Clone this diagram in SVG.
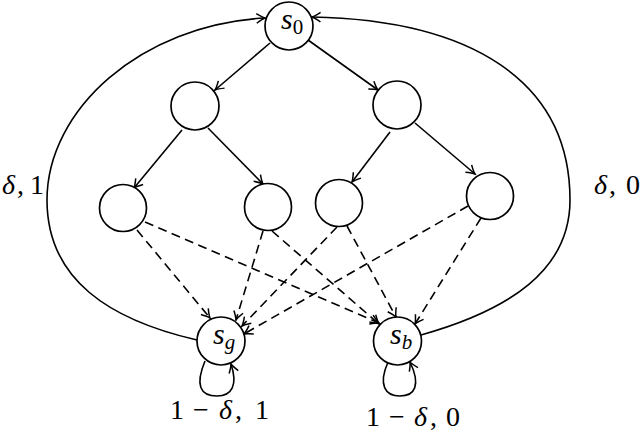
<svg xmlns="http://www.w3.org/2000/svg" width="640" height="431" viewBox="0 0 640 431">
<style>
.node circle{fill:#fff;stroke:#000;stroke-width:1.7}
.e{fill:none;stroke:#000;stroke-width:1.6;marker-end:url(#arr)}
.d{stroke-dasharray:9 5.5}
text{font-family:"Liberation Serif","DejaVu Serif",serif;fill:#000}
.it{font-style:italic}
.lbl{font-size:28px}
.nl{font-size:30px}
</style>
<defs>
<marker id="arr" viewBox="-10 -6 12 12" markerWidth="12" markerHeight="12" refX="0" refY="0" orient="auto" markerUnits="userSpaceOnUse">
<path d="M-8.5,-4.8 Q-3,-1 0,0 Q-3,1 -8.5,4.8" fill="none" stroke="#000" stroke-width="1.5"/>
</marker>
</defs>
<rect width="640" height="431" fill="#fff"/>
<g id="connectors">
<path class="e" d="M270,43 L215,90"/>
<path class="e" d="M308,40 L378,90"/>
<path class="e" d="M182,130 L134,188"/>
<path class="e" d="M208,128 L263,184"/>
<path class="e" d="M390,132 L352,182"/>
<path class="e" d="M415,123 L475,174"/>
<path class="e d" d="M137,230 L210,318"/>
<path class="e d" d="M145,222 L379,323"/>
<path class="e d" d="M263,231 L236,320"/>
<path class="e d" d="M272,231 L379,324"/>
<path class="e d" d="M337,227 L242,326"/>
<path class="e d" d="M347,226 L396,317"/>
<path class="e d" d="M468,206 L244,334"/>
<path class="e d" d="M481,218 L415,324"/>
<path class="e" d="M197,340 C110,320 47,280 47,200 C47,110 140,25 265,18"/>
<path class="e" d="M421,335 C510,310 570,270 570,200 C570,80 470,20 312,17"/>
<path class="e" d="M205,361 C195,385 200,396 217,396 C232,396 238,385 231,364"/>
<path class="e" d="M388,362 C378,385 385,396 400,396 C415,396 421,385 410,362"/>
</g>
<g id="s0" class="node"><circle cx="289" cy="26" r="24"/><text x="281" y="29" class="nl"><tspan class="it">s</tspan><tspan font-size="21" dy="5">0</tspan></text></g>
<g id="n1" class="node"><circle cx="195" cy="106" r="24"/></g>
<g id="n2" class="node"><circle cx="397" cy="105" r="24"/></g>
<g id="n3" class="node"><circle cx="123" cy="208" r="23.5"/></g>
<g id="n4" class="node"><circle cx="268" cy="207" r="23.5"/></g>
<g id="n5" class="node"><circle cx="339" cy="203" r="23.5"/></g>
<g id="n6" class="node"><circle cx="490" cy="196" r="23.5"/></g>
<g id="sg" class="node"><circle cx="221" cy="341" r="24"/><text x="213" y="344" class="nl"><tspan class="it">s</tspan><tspan class="it" font-size="21" dy="5">g</tspan></text></g>
<g id="sb" class="node"><circle cx="397.5" cy="341" r="24"/><text x="390" y="344" class="nl"><tspan class="it">s</tspan><tspan class="it" font-size="21" dy="5">b</tspan></text></g>
<g id="labels" class="lbl">
<text y="419"><tspan x="170">1</tspan><tspan x="193">−</tspan><tspan x="219" class="it">δ</tspan><tspan x="235">,</tspan><tspan x="255">1</tspan></text>
<text y="426"><tspan x="366">1</tspan><tspan x="389">−</tspan><tspan x="414" class="it">δ</tspan><tspan x="430">,</tspan><tspan x="446">0</tspan></text>
<text y="194"><tspan x="2" class="it">δ</tspan><tspan x="17">,</tspan><tspan x="30">1</tspan></text>
<text y="194"><tspan x="594" class="it">δ</tspan><tspan x="609">,</tspan><tspan x="626">0</tspan></text>
</g>
</svg>
